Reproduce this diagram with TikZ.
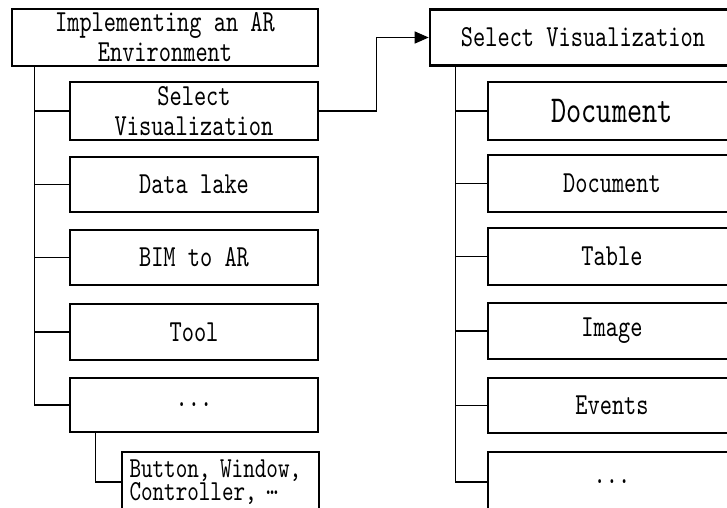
\documentclass[tikz,border=0pt]{standalone}
\usepackage{fontspec}
\newfontfamily\boxfont{lmmono10-regular}[Extension=.otf, FakeStretch=0.76]
\usetikzlibrary{arrows.meta}
\begin{document}
\begin{tikzpicture}[x=1pt,y=-1pt,
  box/.style={draw=black, line width=2.6pt, fill=white, inner sep=0pt,
    align=center, font=\boxfont\fontsize{30.6}{30}\selectfont},
  rootbox/.style={box, minimum width=306pt},
  childbox/.style={box, minimum width=248pt},
  link/.style={draw=black, line width=1.3pt},
]
\useasboundingbox[fill=white] (0,0) rectangle (727,507);

% left tree
\node[rootbox, minimum height=57pt] (lroot) at (165,37.5) {Implementing an AR\\Environment};
\node[childbox, minimum height=58pt] (l1) at (194,111)   {Select\\Visualization};
\node[childbox, minimum height=55pt] (l2) at (194,184.5) {Data lake};
\node[childbox, minimum height=55pt] (l3) at (194,257.5) {BIM to AR};
\node[childbox, minimum height=56pt] (l4) at (194,332)   {Tool};
\node[childbox, minimum height=54pt] (l5) at (194,405)   {...};
\node[box, minimum width=197pt, minimum height=60pt, text width=182pt,
      inner xsep=7.5pt, align=left,
      font=\boxfont\fontsize{29}{22.5}\selectfont] (l6) at (220.5,482)
      {Button, Window,\\Controller, \raisebox{6pt}{…}};

% right tree
\node[rootbox, minimum height=56pt] (rroot) at (583,37.5) {Select Visualization};
\node[childbox, minimum height=58pt, font=\boxfont\fontsize{38}{38}\selectfont]
      (r1) at (612,111) {Document};
\node[childbox, minimum height=57pt] (r2) at (612,183.5) {Document};
\node[childbox, minimum height=57pt] (r3) at (612,256.5) {Table};
\node[childbox, minimum height=56pt] (r4) at (612,331)   {Image};
\node[childbox, minimum height=55pt] (r5) at (612,405.5) {Events};
\node[childbox, minimum height=60pt] (r6) at (612,482)   {...};

% trunks and branches
\coordinate (ltrunk) at ([xshift=24pt]lroot.south west);
\draw[link] (ltrunk) |- (l5.west);
\foreach \c in {l1,l2,l3,l4} \draw[link] (\c.west) -- (\c.west -| ltrunk);

\coordinate (strunk) at ([xshift=27pt]l5.south west);
\draw[link] (strunk) |- (l6.west);

\coordinate (rtrunk) at ([xshift=27pt]rroot.south west);
\draw[link] (rtrunk) |- (r6.west);
\foreach \c in {r1,r2,r3,r4,r5} \draw[link] (\c.west) -- (\c.west -| rtrunk);

% link between the two trees
\draw[link, -{Triangle[length=14pt,width=12pt]}] (l1.east) -- ++(57,0) |- (rroot.west);
\end{tikzpicture}
\end{document}
